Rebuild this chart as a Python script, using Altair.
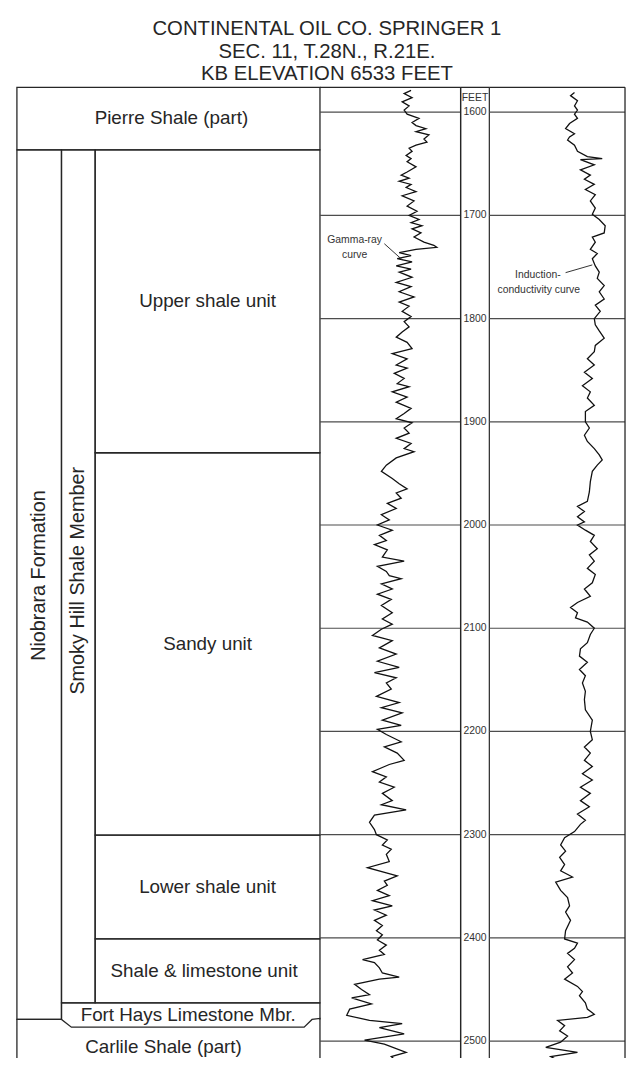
import altair as alt
import pandas as pd

# ---------------- text ----------------
TITLE_LINES = ["CONTINENTAL OIL CO. SPRINGER 1", "SEC. 11, T.28N., R.21E.", "KB ELEVATION 6533 FEET"]
title_line_no = [1, 2, 3]

# ---------------- depth frame (feet) ----------------
DEPTH_TOP = 1576
DEPTH_BASE = 2516.3
depth_ticks = [1600, 1700, 1800, 1900, 2000, 2100, 2200, 2300, 2400, 2500]
depth_label_text = ["FEET", "1600", "1700", "1800", "1900", "2000", "2100", "2200", "2300", "2400", "2500"]
depth_label_depth = [1586.5, 1600, 1700, 1800, 1900, 2000, 2100, 2200, 2300, 2400, 2500]

# ---------------- stratigraphic boxes ----------------
box_name = ["Pierre Shale (part)", "Niobrara Formation", "Smoky Hill Shale Member",
            "Upper shale unit", "Sandy unit", "Lower shale unit", "Shale & limestone unit"]
box_left = [0, 0, 45, 79, 79, 79, 79]
box_right = [306, 45, 79, 306, 306, 306, 306]
box_top = [1576, 1636.5, 1636.5, 1636.5, 1930, 2300.5, 2401]
box_base = [1636.5, 2479, 2463, 1930, 2300.5, 2401, 2463]

# Fort Hays member and Carlile Shale outlines (chamfered contact)
outline_part = ["fh", "fh", "fh", "fh", "cs", "cs", "cs", "cs", "cs", "cs", "cs", "cs"]
outline_x = [45, 45, 306, 306, 0, 0, 45, 55, 290, 298, 306, 306]
outline_depth = [2479, 2463, 2463, 2479, 2516.3, 2479, 2479, 2486.5, 2486.5, 2479, 2478, 2516.3]

label_text = ["Pierre Shale (part)", "Upper shale unit", "Sandy unit", "Lower shale unit",
              "Shale & limestone unit", "Fort Hays Limestone Mbr.", "Carlile Shale (part)"]
label_x = [156, 192.5, 192.5, 192.5, 189, 173, 148]
label_depth = [1606, 1783, 2115, 2350.5, 2432, 2475, 2506]

vlabel_text = ["Niobrara Formation", "Smoky Hill Shale Member"]
vlabel_x = [22.5, 62]
vlabel_depth = [2049, 2054]

# ---------------- gamma-ray curve (relative deflection in track units) ----------------
gamma_depth = [
    1579, 1582, 1586, 1590, 1594, 1598, 1602, 1606, 1610, 1613, 1616, 1619, 1622, 1626, 1629,
    1632, 1635, 1638, 1642, 1645, 1648, 1653, 1658, 1661, 1664, 1667, 1670, 1673, 1677, 1681,
    1686, 1691, 1696, 1700, 1704, 1707, 1710, 1713, 1717, 1721, 1726, 1729, 1731, 1733, 1736,
    1739, 1742, 1745, 1749, 1752, 1755, 1760, 1765, 1769, 1774, 1779, 1784, 1788, 1793, 1798,
    1803, 1808, 1813, 1818, 1823, 1829, 1834, 1839, 1845, 1848, 1853, 1858, 1863, 1866, 1871,
    1876, 1881, 1887, 1892, 1897, 1901, 1906, 1911, 1916, 1921, 1926, 1929, 1935, 1942, 1948,
    1955, 1960, 1965, 1969, 1974, 1979, 1984, 1990, 1995, 2000, 2005, 2010, 2015, 2019, 2024,
    2031, 2035, 2040, 2045, 2049, 2052, 2057, 2062, 2067, 2072, 2078, 2085, 2091, 2096, 2101,
    2107, 2112, 2119, 2125, 2132, 2138, 2143, 2148, 2153, 2159, 2166, 2172, 2177, 2182, 2189,
    2194, 2198, 2203, 2210, 2215, 2221, 2228, 2232, 2239, 2244, 2249, 2254, 2260, 2267, 2271,
    2276, 2281, 2288, 2295, 2300, 2305, 2310, 2314, 2319, 2326, 2332, 2337, 2340, 2345, 2349,
    2354, 2359, 2364, 2369, 2373, 2378, 2383, 2388, 2393, 2397, 2402, 2407, 2412, 2416, 2421,
    2424, 2429, 2434, 2438, 2440, 2445, 2450, 2455, 2458, 2464, 2469, 2475, 2480, 2483, 2487,
    2493, 2499, 2503, 2511, 2515, 2520, 2526,
]
gamma_value = [
    92, 85, 93, 83, 90, 85, 88, 100, 93, 97, 107, 97, 110, 105, 108,
    97, 90, 93, 87, 92, 88, 97, 88, 82, 90, 80, 92, 87, 97, 83,
    95, 88, 98, 90, 100, 92, 103, 93, 102, 95, 105, 115, 118, 97, 80,
    92, 78, 93, 77, 92, 80, 93, 77, 92, 80, 95, 80, 90, 83, 92,
    85, 90, 83, 77, 88, 93, 73, 88, 77, 88, 75, 85, 78, 90, 73,
    88, 77, 92, 85, 77, 93, 85, 90, 77, 92, 85, 95, 77, 67, 62,
    73, 80, 88, 77, 82, 68, 77, 62, 70, 58, 73, 60, 67, 55, 68,
    63, 85, 58, 67, 70, 82, 62, 73, 58, 72, 62, 73, 63, 73, 62,
    53, 73, 60, 77, 58, 80, 55, 77, 67, 72, 57, 80, 62, 83, 63,
    82, 58, 67, 82, 65, 78, 85, 70, 53, 67, 60, 75, 63, 73, 62,
    87, 55, 50, 55, 57, 68, 63, 72, 67, 70, 48, 67, 78, 65, 68,
    58, 70, 53, 73, 55, 67, 55, 63, 57, 63, 58, 67, 60, 65, 43,
    55, 60, 63, 80, 60, 35, 42, 50, 32, 52, 30, 27, 50, 83, 60,
    85, 45, 65, 87, 72, 78, 65,
]

# ---------------- induction-conductivity curve (relative deflection in track units) ----------------
ind_depth = [
    1581, 1584, 1589, 1594, 1598, 1602, 1606, 1611, 1616, 1621, 1624, 1627, 1632, 1638, 1643,
    1645, 1646, 1651, 1656, 1661, 1665, 1670, 1675, 1680, 1686, 1693, 1699, 1704, 1710, 1717,
    1721, 1726, 1733, 1737, 1742, 1749, 1755, 1761, 1768, 1774, 1781, 1787, 1793, 1800, 1806,
    1812, 1819, 1826, 1832, 1839, 1845, 1852, 1858, 1865, 1871, 1877, 1884, 1890, 1900, 1906,
    1913, 1919, 1926, 1932, 1937, 1942, 1948, 1958, 1968, 1977, 1982, 1987, 1992, 1997, 2000,
    2005, 2010, 2016, 2023, 2029, 2035, 2042, 2048, 2056, 2062, 2069, 2075, 2080, 2085, 2090,
    2094, 2100, 2106, 2114, 2120, 2127, 2133, 2140, 2146, 2153, 2161, 2169, 2179, 2189, 2200,
    2208, 2215, 2221, 2228, 2234, 2241, 2247, 2254, 2260, 2267, 2273, 2280, 2286, 2290, 2297,
    2303, 2310, 2316, 2322, 2329, 2335, 2341, 2346, 2354, 2361, 2369, 2375, 2383, 2393, 2401,
    2405, 2410, 2415, 2421, 2428, 2434, 2440, 2447, 2452, 2456, 2463, 2469, 2474, 2477, 2480,
    2485, 2490, 2495, 2501, 2506, 2511, 2515, 2520, 2525,
]
ind_value = [
    86, 82, 89, 86, 89, 86, 89, 81, 77, 86, 81, 79, 86, 89, 99,
    114, 92, 106, 92, 102, 96, 106, 97, 107, 102, 107, 104, 111, 117, 116,
    104, 107, 102, 109, 104, 107, 111, 109, 116, 111, 116, 107, 112, 106, 107,
    111, 116, 107, 106, 99, 106, 96, 104, 94, 102, 99, 106, 97, 97, 101,
    96, 99, 106, 111, 114, 109, 104, 102, 101, 99, 89, 96, 89, 96, 89,
    97, 106, 102, 109, 101, 106, 99, 107, 104, 96, 102, 89, 82, 89, 87,
    99, 106, 102, 99, 92, 91, 99, 91, 97, 94, 97, 96, 97, 104, 102,
    104, 96, 102, 96, 104, 94, 104, 92, 102, 92, 101, 89, 97, 92, 86,
    76, 72, 77, 71, 76, 72, 84, 67, 72, 79, 81, 77, 82, 77, 76,
    89, 86, 79, 86, 79, 84, 76, 89, 94, 91, 97, 99, 106, 99, 69,
    76, 71, 79, 72, 57, 89, 62, 72, 59,
]

# ---------------- curve call-outs ----------------
gamma_note_text = ["Gamma-ray", "curve"]
gamma_note_x = [35, 35]
gamma_note_depth = [1723.5, 1738]
gamma_leader_x = [65, 83]
gamma_leader_depth = [1727.5, 1743]

ind_note_text = ["Induction-", "conductivity curve"]
ind_note_x = [49, 50]
ind_note_depth = [1758, 1772]
ind_leader_x = [77, 104]
ind_leader_depth = [1755.5, 1748]

# ---------------- styling ----------------
FONT = "Liberation Sans"
INK = "#262626"
GRID = "#4d4d4d"
H = 980
TITLE_H = 75
W_STRAT, W_GAMMA, W_DEPTH, W_IND = 306, 142, 29, 137
W_ALL = W_STRAT + W_GAMMA + W_DEPTH + W_IND

yscale = alt.Scale(domain=[DEPTH_TOP, DEPTH_BASE], reverse=True, nice=False, zero=False)
xs_strat = alt.Scale(domain=[0, W_STRAT], nice=False, zero=False)
xs_gamma = alt.Scale(domain=[0, W_GAMMA], nice=False, zero=False)
xs_depth = alt.Scale(domain=[0, W_DEPTH], nice=False, zero=False)
xs_ind = alt.Scale(domain=[0, W_IND], nice=False, zero=False)


def Yd(field="depth"):
    return alt.Y(f"{field}:Q", scale=yscale, axis=None)


def Xd(field, scale):
    return alt.X(f"{field}:Q", scale=scale, axis=None)


# ---------- title block ----------
title_df = pd.DataFrame({"t": TITLE_LINES, "line": title_line_no,
                         "x": [W_ALL / 2 + 6] * len(TITLE_LINES)})
title_panel = alt.Chart(title_df).mark_text(font=FONT, fontSize=20.5, color=INK,
                                            align="center", baseline="alphabetic").encode(
    x=alt.X("x:Q", scale=alt.Scale(domain=[0, W_ALL], nice=False, zero=False), axis=None),
    y=alt.Y("line:Q", scale=alt.Scale(domain=[0.05, 3.31], reverse=True, nice=False, zero=False),
            axis=None),
    text="t:N",
).properties(width=W_ALL, height=TITLE_H)

# ---------- stratigraphy panel ----------
box_df = pd.DataFrame({"name": box_name, "left": box_left, "right": box_right,
                       "top": box_top, "base": box_base})
outline_df = pd.DataFrame({"part": outline_part, "x": outline_x, "depth": outline_depth,
                           "i": list(range(len(outline_x)))})
label_df = pd.DataFrame({"name": label_text, "x": label_x, "depth": label_depth})
vlabel_df = pd.DataFrame({"name": vlabel_text, "x": vlabel_x, "depth": vlabel_depth})

boxes = alt.Chart(box_df).mark_rect(fillOpacity=0, stroke=INK, strokeWidth=1.3).encode(
    x=Xd("left", xs_strat), x2="right:Q", y=Yd("top"), y2="base:Q")
outline = alt.Chart(outline_df).mark_line(color=INK, strokeWidth=1.3).encode(
    x=Xd("x", xs_strat), y=Yd(), detail="part:N", order="i:Q")
labels = alt.Chart(label_df).mark_text(font=FONT, fontSize=19, color=INK,
                                       align="center", baseline="middle").encode(
    x=Xd("x", xs_strat), y=Yd(), text="name:N")
vlabels = alt.Chart(vlabel_df).mark_text(font=FONT, fontSize=20, color=INK, angle=270,
                                         align="center", baseline="middle").encode(
    x=Xd("x", xs_strat), y=Yd(), text="name:N")
strat = alt.layer(boxes, outline, labels, vlabels).properties(width=W_STRAT, height=H)

# ---------- shared frame pieces ----------
tick_df = pd.DataFrame({"depth": depth_ticks})
top_df = pd.DataFrame({"depth": [DEPTH_TOP]})


def track(values_depth, values, scale, width, note_text, note_x, note_depth, lead_x, lead_depth):
    grid = alt.Chart(tick_df).mark_rule(color=GRID, strokeWidth=1.2).encode(y=Yd())
    top = alt.Chart(top_df).mark_rule(color=INK, strokeWidth=1.3).encode(y=Yd())
    right = alt.Chart(pd.DataFrame({"x": [width]})).mark_rule(color=INK, strokeWidth=1.3).encode(
        x=Xd("x", scale))
    curve_df = pd.DataFrame({"depth": values_depth, "value": values})
    curve = alt.Chart(curve_df).mark_line(color="#111111", strokeWidth=1.3, clip=True).encode(
        x=Xd("value", scale), y=Yd(), order="depth:Q")
    note_df = pd.DataFrame({"t": note_text, "x": note_x, "depth": note_depth})
    note = alt.Chart(note_df).mark_text(font=FONT, fontSize=10.5, color="#333333",
                                        align="center", baseline="middle").encode(
        x=Xd("x", scale), y=Yd(), text="t:N")
    lead_df = pd.DataFrame({"x": lead_x, "depth": lead_depth, "i": [0, 1]})
    lead = alt.Chart(lead_df).mark_line(color="#333333", strokeWidth=1).encode(
        x=Xd("x", scale), y=Yd(), order="i:Q")
    return alt.layer(grid, top, right, curve, note, lead).properties(width=width, height=H)


gamma = track(gamma_depth, gamma_value, xs_gamma, W_GAMMA, gamma_note_text, gamma_note_x,
              gamma_note_depth, gamma_leader_x, gamma_leader_depth)
ind = track(ind_depth, ind_value, xs_ind, W_IND, ind_note_text, ind_note_x,
            ind_note_depth, ind_leader_x, ind_leader_depth)

# ---------- depth column ----------
dlab_df = pd.DataFrame({"t": depth_label_text, "depth": depth_label_depth,
                        "x": [W_DEPTH / 2] * len(depth_label_text)})
d_top = alt.Chart(top_df).mark_rule(color=INK, strokeWidth=1.3).encode(y=Yd())
d_sides = alt.Chart(pd.DataFrame({"x": [0, W_DEPTH]})).mark_rule(color=INK, strokeWidth=1.2).encode(
    x=Xd("x", xs_depth))
d_text = alt.Chart(dlab_df).mark_text(font=FONT, fontSize=10.5, color="#333333",
                                      align="center", baseline="middle").encode(
    x=Xd("x", xs_depth), y=Yd(), text="t:N")
depth_col = alt.layer(d_top, d_sides, d_text).properties(width=W_DEPTH, height=H)

row = alt.hconcat(strat, gamma, depth_col, ind, spacing=0, bounds="flush")

chart = alt.vconcat(title_panel, row, spacing=0, bounds="flush").properties(
    padding={"left": 6, "top": 0, "right": 0, "bottom": 0},
    background="white",
).configure_view(strokeWidth=0).configure_concat(spacing=0)

chart.save("out.html", embed_options={"renderer": "svg", "actions": False})
